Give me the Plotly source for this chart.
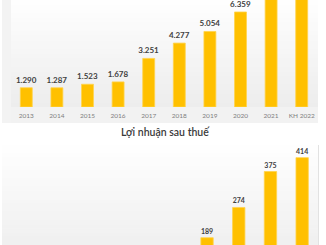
import plotly.graph_objects as go

categories = ["2013", "2014", "2015", "2016", "2017", "2018", "2019", "2020", "2021", "KH 2022"]
revenue = [1290, 1287, 1523, 1678, 3251, 4277, 5054, 6359, 8200, 9000]
profit = [45, 50, 62, 75, 110, 135, 189, 274, 375, 414]
profit_title = "Lợi nhuận sau thuế"

W, H = 326, 245
BAR = "#FFC000"
LABEL = "#404040"
REV_RANGE = [0, 7160]
PROF_RANGE = [168.5, 449.5]


def fmt(v):
    return f"{v:,}".replace(",", ".")


def labels(vals, rng, lo_margin):
    # only label bars whose label lands inside the visible window
    return [fmt(v) if (rng[0] + lo_margin) <= v <= rng[1] else "" for v in vals]


fig = go.Figure()
fig.add_trace(go.Bar(
    x=categories, y=revenue, xaxis="x", yaxis="y",
    marker=dict(color=BAR, line=dict(color="#FFD34D", width=0.8)),
    text=labels(revenue, REV_RANGE, 0), textposition="outside", constraintext="none",
    textfont=dict(family="Lato", size=8, color=LABEL, weight="bold"),
    cliponaxis=True, hoverinfo="skip",
))
fig.add_trace(go.Bar(
    x=categories, y=profit, xaxis="x2", yaxis="y2",
    marker=dict(color=BAR, line=dict(color="#FFD34D", width=0.8)),
    text=labels(profit, PROF_RANGE, 0), textposition="outside", constraintext="none",
    textfont=dict(family="Lato", size=7, color=LABEL, weight="bold"),
    cliponaxis=True, hoverinfo="skip",
))

shapes = []


def px_x(x):
    return x / W


def px_y(y):
    return 1 - y / H


shapes.append(dict(type="rect", xref="paper", yref="paper", x0=px_x(2), x1=px_x(11),
                   y0=px_y(123), y1=px_y(0), fillcolor="#f3f3f3", line=dict(width=0), layer="below"))
n = 24
for i in range(n):
    y0 = 107 * i / n
    y1 = 107 * (i + 1) / n + 0.5
    g = int(255 - (255 - 237) * (i + 0.5) / n)
    shapes.append(dict(type="rect", xref="paper", yref="paper", x0=px_x(11), x1=px_x(318),
                       y0=px_y(y1), y1=px_y(y0), fillcolor=f"rgb({g},{g},{g})",
                       line=dict(width=0), layer="below"))
shapes.append(dict(type="rect", xref="paper", yref="paper", x0=px_x(11), x1=px_x(318),
                   y0=px_y(123), y1=px_y(107), fillcolor="#f2f2f2", line=dict(width=0), layer="below"))
for i in range(n):
    y0 = 145 + 100 * i / n
    y1 = 145 + 100 * (i + 1) / n + 0.5
    g = int(255 - (255 - 240) * (i + 0.5) / n)
    shapes.append(dict(type="rect", xref="paper", yref="paper", x0=px_x(2), x1=px_x(318),
                       y0=px_y(y1), y1=px_y(y0), fillcolor=f"rgb({g},{g},{g})",
                       line=dict(width=0), layer="below"))
shapes.append(dict(type="line", xref="paper", yref="paper", x0=px_x(318.5), x1=px_x(318.5),
                   y0=0, y1=px_y(145), line=dict(color="#e2e2e2", width=1), layer="below"))

fig.update_layout(
    width=W, height=H, margin=dict(l=0, r=0, t=0, b=0),
    paper_bgcolor="white", plot_bgcolor="rgba(0,0,0,0)",
    showlegend=False, bargap=0.61,
    shapes=shapes,
    xaxis=dict(domain=[px_x(11), px_x(317)], anchor="y", showgrid=False, zeroline=False,
               showline=False, ticks="", ticklabelstandoff=3,
               tickfont=dict(family="Lato", size=6.5, color="#7f7f7f")),
    yaxis=dict(domain=[px_y(107), 1], range=REV_RANGE, visible=False, showgrid=False, zeroline=False),
    xaxis2=dict(domain=[px_x(1), px_x(318)], anchor="y2", showgrid=False, zeroline=False,
                showline=False, ticks="", showticklabels=False),
    yaxis2=dict(domain=[0, px_y(145)], range=PROF_RANGE, visible=False, showgrid=False, zeroline=False),
    annotations=[dict(text=profit_title, xref="paper", yref="paper", x=px_x(166), y=px_y(132),
                      showarrow=False, xanchor="center", yanchor="middle",
                      font=dict(family="Lato", size=10.5, color="#3a3a3a", weight=600))],
)

fig.write_html("out.html")
